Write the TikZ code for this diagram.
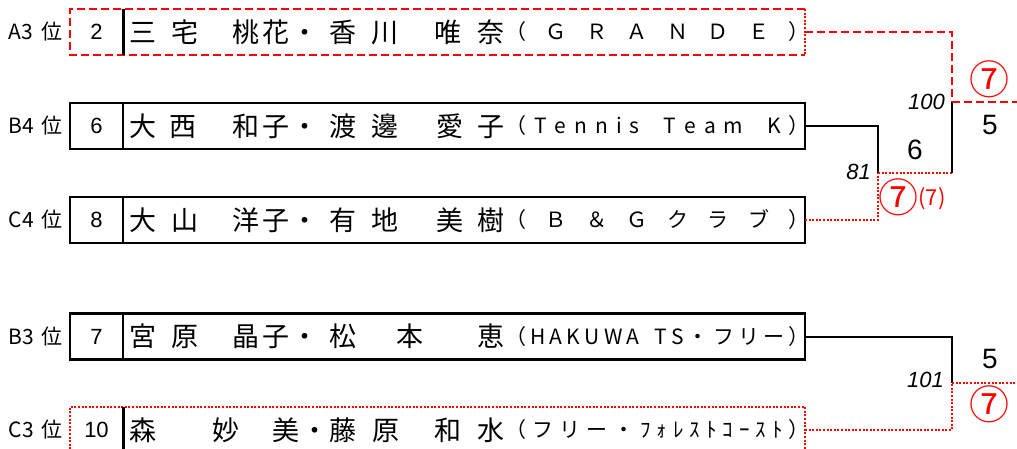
\documentclass[tikz,border=0pt]{standalone}
\usepackage{fontspec}
\setmainfont{Noto Sans CJK JP}
\newfontfamily\latf{Liberation Sans}
\definecolor{rd}{RGB}{255,0,0}
\newcommand\chr[2]{\makebox[0pt][l]{\hspace*{#1pt}#2}}
\begin{document}
\begin{tikzpicture}[x=1pt,y=-1pt,
  boxn/.style={minimum width=735pt,minimum height=46pt,inner sep=0pt,outer sep=0pt},
  bord/.style={draw,line width=2.6pt},
  divthin/.style={line width=1.6pt},
  divthick/.style={line width=3pt},
  lab/.style={inner sep=0pt,anchor=east,font=\fontsize{21}{21}\selectfont},
  num/.style={inner sep=0pt,font=\latf\fontsize{22}{22}\selectfont},
  namet/.style={inner sep=0pt,anchor=west,font=\fontsize{27}{27}\selectfont},
  club/.style={inner sep=0pt,font=\fontsize{21}{21}\selectfont},
  blk/.style={line width=2pt,black},
  rdash/.style={line width=2.6pt,rd,dash pattern=on 8pt off 4pt},
  rdot/.style={line width=2.4pt,rd,dash pattern=on 2pt off 1.6pt},
  score/.style={inner sep=0pt,font=\latf\fontsize{28}{28}\selectfont},
  mno/.style={inner sep=0pt,anchor=east,font=\latf\itshape\fontsize{22}{22}\selectfont},
  circ/.style={inner sep=0pt,text=rd,font=\fontsize{40}{40}\selectfont},
  small7/.style={inner sep=0pt,text=rd,font=\fontsize{22}{22}\selectfont},
]
\useasboundingbox[fill=white] (0,0) rectangle (1017,448);

% boxes
\node[boxn] (a3) at (437.5,32) {};
\node[boxn,bord] (b4) at (437.5,126) {};
\node[boxn,bord] (c4) at (437.5,220) {};
\node[boxn,bord] (b3) at (437.5,336.5) {};
\node[boxn] (c3) at (437.5,430) {};

\draw[rdash] (a3.north east) -- (a3.north west) -- (a3.south west) -- (a3.south east);
\draw[rdot] (a3.north east) -- (a3.south east);
\draw[rdot] (c3.south west) -- (c3.north west) -- (c3.north east) -- (c3.south east);

% dividers
\draw[divthick] ([xshift=53pt]a3.north west) -- ([xshift=53pt]a3.south west);
\draw[divthin] ([xshift=53pt]b4.north west) -- ([xshift=53pt]b4.south west);
\draw[divthin] ([xshift=53pt]c4.north west) -- ([xshift=53pt]c4.south west);
\draw[divthin] ([xshift=53pt]b3.north west) -- ([xshift=53pt]b3.south west);
\draw[divthick] ([xshift=53pt]c3.north west) -- ([xshift=53pt]c3.south west);

% labels
\node[lab] (la3) at ([xshift=-7pt]a3.west) {\makebox[54pt]{A3\hfill 位}};
\node[lab] (lb4) at ([xshift=-7pt]b4.west) {\makebox[54pt]{B4\hfill 位}};
\node[lab] (lc4) at ([xshift=-7pt]c4.west) {\makebox[54pt]{C4\hfill 位}};
\node[lab] (lb3) at ([xshift=-7pt]b3.west) {\makebox[54pt]{B3\hfill 位}};
\node[lab] (lc3) at ([xshift=-7pt]c3.west) {\makebox[54pt]{C3\hfill 位}};

% numbers
\node[num] (na3) at (96.5,32) {2};
\node[num] (nb4) at (96.5,126) {6};
\node[num] (nc4) at (96.5,220) {8};
\node[num] (nb3) at (96.5,336.5) {7};
\node[num] (nc3) at (96.5,430) {10};

% names
\node[namet] (ma3) at (129,32) {\chr{0}{三}\chr{42}{宅}\chr{103}{桃}\chr{133}{花}\chr{162}{・}\chr{200}{香}\chr{242}{川}\chr{305}{唯}\chr{348}{奈}};
\node[namet] (mb4) at (129,126) {\chr{0}{大}\chr{40}{西}\chr{103}{和}\chr{133}{子}\chr{162}{・}\chr{200}{渡}\chr{242}{邊}\chr{307}{愛}\chr{348}{子}};
\node[namet] (mc4) at (129,220) {\chr{0}{大}\chr{42}{山}\chr{103}{洋}\chr{133}{子}\chr{162}{・}\chr{200}{有}\chr{242}{地}\chr{307}{美}\chr{348}{樹}};
\node[namet] (mb3) at (129,336.5) {\chr{0}{宮}\chr{42}{原}\chr{103}{晶}\chr{133}{子}\chr{162}{・}\chr{200}{松}\chr{267}{本}\chr{348}{恵}};
\node[namet] (mc3) at (129,430) {\chr{0}{森}\chr{83}{妙}\chr{143}{美}\chr{172}{・}\chr{200}{藤}\chr{243}{原}\chr{305}{和}\chr{348}{水}};

% clubs
\node[club] (ca3) at (657.5,32) {\makebox[305pt]{（\hfill Ｇ\hfill Ｒ\hfill Ａ\hfill Ｎ\hfill Ｄ\hfill Ｅ\hfill ）}};
\node[club] (cb4) at (657.5,126) {\makebox[305pt]{（\hfill T\hfill e\hfill n\hfill n\hfill i\hfill s\hfill\hspace{8pt}\hfill T\hfill e\hfill a\hfill m\hfill\hspace{8pt}\hfill K\hfill ）}};
\node[club] (cc4) at (657.5,220) {\makebox[305pt]{（\hfill Ｂ\hfill ＆\hfill Ｇ\hfill ク\hfill ラ\hfill ブ\hfill ）}};
\node[club] (cb3) at (657.5,336.5) {\makebox[305pt]{（\hfill H\hfill A\hfill K\hfill U\hfill W\hfill A\hfill\hspace{6pt}\hfill T\hfill S\hfill ・\hfill フ\hfill リ\hfill ー\hfill ）}};
\node[club] (cc3) at (657.5,430) {\makebox[305pt]{（\hfill フ\hfill リ\hfill ー\hfill ・\hfill ﾌ\hfill ｫ\hfill ﾚ\hfill ｽ\hfill ﾄ\hfill ｺ\hfill ｰ\hfill ｽ\hfill ﾄ\hfill ）}};

% bracket
\coordinate (j1) at (878,173);
\coordinate (j1b) at (952,173);
\coordinate (j2) at (952,102);
\coordinate (e1) at (1017,102);
\coordinate (j3) at (952,383);
\coordinate (e2) at (1017,383);

\draw[blk] (b4.east) -| (j1);
\draw[rdot] (c4.east) -| (j1);
\draw[rdot] (j1) -- (j1b);
\draw[blk] (j1b) -- (j2);
\draw[rdash] (a3.east) -| (j2);
\draw[rdash] (j2) -- (e1);
\draw[blk] (b3.east) -| (j3);
\draw[rdot] (c3.east) -| (j3);
\draw[rdot] (j3) -- (e2);

% scores
\node[mno] (s81) at ([xshift=-7pt,yshift=1pt]j1) {81};
\node[mno] (s100) at ([xshift=-7pt]j2) {100};
\node[mno] (s101) at ([xshift=-8pt,yshift=3pt]j3) {101};
\node[score] (g6) at (915,150) {6};
\node[circ] (w1) at (898,197) {⑦};
\node[small7] (w1b) at (932,199) {(7)};
\node[circ] (w2) at (989,79) {⑦};
\node[score] (g5a) at (990,125) {5};
\node[score] (g5b) at (990,359) {5};
\node[circ] (w3) at (989,404) {⑦};
\end{tikzpicture}
\end{document}
